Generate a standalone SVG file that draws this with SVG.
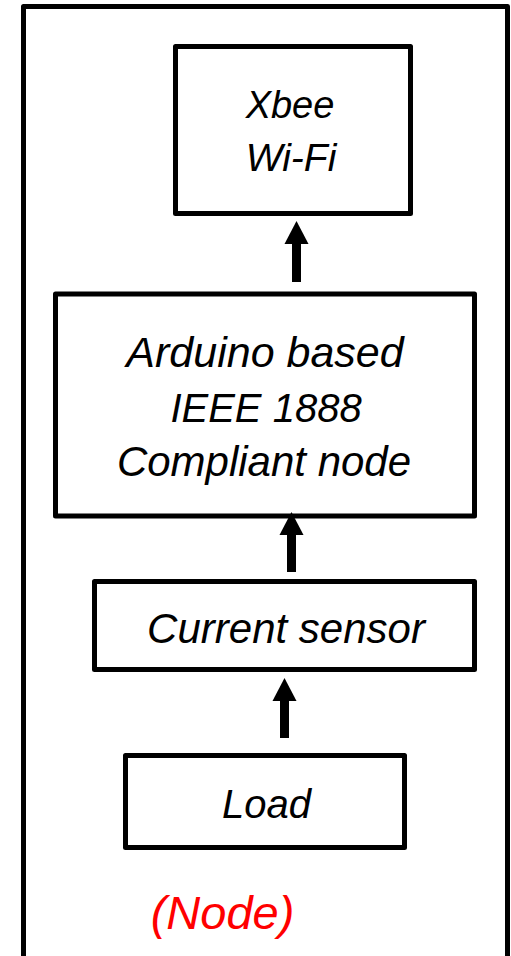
<svg xmlns="http://www.w3.org/2000/svg" width="511" height="956" viewBox="0 0 511 956">
  <defs>
    <marker id="head" markerUnits="userSpaceOnUse" markerWidth="24" markerHeight="24" refX="0" refY="12" orient="auto" overflow="visible">
      <path d="M0,0 L23,12 L0,24 Z" fill="#000"/>
    </marker>
  </defs>
  <style>
    .box { fill: #fff; stroke: #000; stroke-width: 5; stroke-linejoin: round; }
    .frame { fill: #fff; stroke: #000; stroke-width: 5; stroke-linejoin: round; }
    .t { font-family: "Liberation Sans", Arial, sans-serif; font-style: italic; fill: #000; text-anchor: middle; }
    .conn { stroke: #000; stroke-width: 9; fill: none; marker-end: url(#head); }
    .red { font-family: "Liberation Sans", Arial, sans-serif; font-style: italic; fill: #ff0000; text-anchor: middle; }
  </style>
  <rect width="511" height="956" fill="#fff"/>
  <g id="frame">
    <rect class="frame" x="23.5" y="6.5" width="484" height="980"/>
  </g>
  <g id="xbee">
    <rect class="box" x="175.5" y="46.5" width="235" height="167"/>
    <text class="t" x="290" y="118" font-size="38">Xbee</text>
    <text class="t" x="291" y="171" font-size="39">Wi-Fi</text>
  </g>
  <g id="arduino">
    <rect class="box" x="55.5" y="294" width="419" height="222"/>
    <text class="t" x="265" y="367" font-size="43">Arduino based</text>
    <text class="t" x="266" y="422" font-size="40">IEEE 1888</text>
    <text class="t" x="264" y="476" font-size="42">Compliant node</text>
  </g>
  <g id="sensor">
    <rect class="box" x="94.5" y="581.5" width="380" height="88"/>
    <text class="t" x="286" y="643" font-size="42">Current sensor</text>
  </g>
  <g id="load">
    <rect class="box" x="125.5" y="755.5" width="279" height="92"/>
    <text class="t" x="266.5" y="818" font-size="40">Load</text>
  </g>
  <g id="connectors">
    <line class="conn" x1="296.5" y1="282" x2="296.5" y2="244"/>
    <line class="conn" x1="291.5" y1="572" x2="291.5" y2="535"/>
    <line class="conn" x1="284.5" y1="738" x2="284.5" y2="701"/>
  </g>
  <g id="label">
    <text class="red" x="222.5" y="929" font-size="47">(Node)</text>
  </g>
</svg>
